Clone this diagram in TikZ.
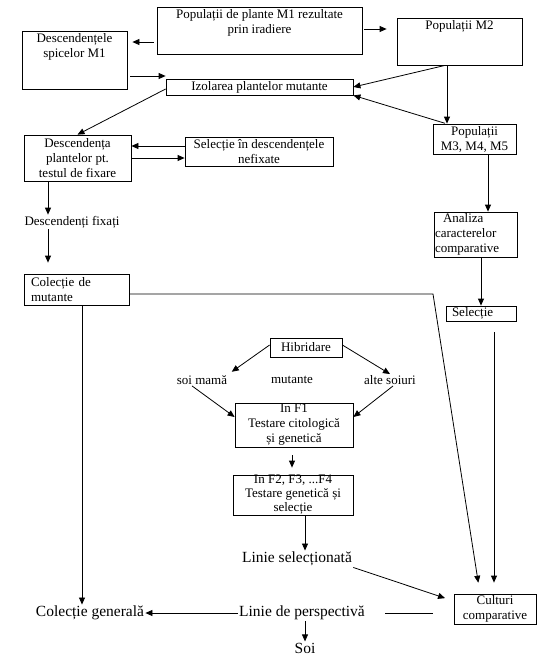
\documentclass[tikz,border=0pt]{standalone}
\usepackage{fontspec}
\setmainfont{Liberation Serif}
\usetikzlibrary{arrows.meta}
\tikzset{
  box/.style={draw, inner sep=1pt, align=center, font=\fontsize{13}{15}\selectfont},
  boxcap/.style={anchor=north, align=center, inner sep=2pt, font=\fontsize{13}{15}\selectfont},
  txt/.style={inner sep=1pt, font=\fontsize{13}{15}\selectfont},
  big/.style={inner sep=1pt, font=\fontsize{15.5}{17}\selectfont},
}
\begin{document}
\begin{tikzpicture}[x=1pt, y=-1pt, line width=0.8pt,
    >={Triangle[length=7pt,width=6pt]}]
    \useasboundingbox (0,0) rectangle (540,667);

    % boxes
    \node[box, minimum width=205, minimum height=47,
        label={[boxcap]north:Populații de plante M1 rezultate\\prin iradiere}] (irad) at (259.5,30.5) {};
    \node[box, minimum width=125, minimum height=47,
        label={[boxcap]north:Populații M2}] (m2) at (459.5,41.5) {};
    \node[box, minimum width=105, minimum height=58,
        label={[boxcap]north:Descendențele\\spicelor M1}] (desc) at (74.5,60) {};
    \node[box, minimum width=187, minimum height=16] (izol) at (259.5,87) {Izolarea plantelor mutante};
    \node[box, minimum width=83, minimum height=30] (m3) at (474.5,139) {Populații\\M3, M4, M5};
    \node[box, minimum width=107, minimum height=46] (fix) at (77.5,158) {Descendența\\plantelor pt.\\testul de fixare};
    \node[box, minimum width=148, minimum height=29] (nefix) at (259,151.5) {Selecție în descendențele\\nefixate};
    \node[txt] (fixati) at (72,222) {Descendenți fixați};
    \node[box, align=left, text width=81, inner xsep=1, minimum height=45] (anal) at (475.5,234.5)
        {\hspace*{8pt}Analiza\\caracterelor\\comparative};
    \node[box, align=left, text width=91, inner xsep=7, minimum height=31] (colm) at (76.5,289.5)
        {Colecție de\\mutante};
    \node[box, align=left, text width=58, inner xsep=6, inner ysep=0, minimum height=15] (sel) at (481,313.5) {Selecție};

    \node[box, minimum width=72, minimum height=19] (hib) at (306,347.5) {Hibridare};
    \node[txt] (mama) at (202,380) {soi mamă};
    \node[txt] (mut) at (292,380) {mutante};
    \node[txt] (alte) at (390,380) {alte soiuri};
    \node[box, minimum width=118, minimum height=44] (f1) at (294,425) {In F1\\Testare citologică\\și genetică};
    \node[box, font=\fontsize{13}{14}\selectfont, inner ysep=0, minimum width=120, minimum height=40] (f2) at (293,495)
        {In F2, F3, ...F4\\Testare genetică și\\selecție};
    \node[big] (linsel) at (297,559) {Linie selecționată};
    \node[box, minimum width=82, minimum height=30] (cult) at (495,609) {Culturi\\comparative};
    \node[big] (colgen) at (90,613) {Colecție generală};
    \node[big] (persp) at (302,613) {Linie de perspectivă};
    \node[big] (soi) at (305,648) {Soi};

    \coordinate (bend) at (433,294);

    % upper part
    \draw[->, shorten <=3pt, shorten >=5pt] (irad.west |- 0,42) -- (desc.east |- 0,42);
    \draw[->, shorten <=2pt, shorten >=10pt] (irad.east |- 0,29) -- (m2.west |- 0,29);
    \draw[->, shorten <=3pt] (desc.east |- 0,76) -- (izol.west |- 0,76);
    \draw[->] (m2.south -| 445,0) -- (izol.east);
    \draw[->, shorten <=1pt] (m3.north -| 446,0) -- (izol.south east);
    \draw[->] (m2.south -| 447,0) -- (m3.north -| 447,0);
    \draw[->] (izol.west |- 0,89) -- (fix.north);
    \draw[->] (nefix.west |- 0,146) -- (fix.east |- 0,146);
    \draw[->] (fix.east |- 0,158) -- (nefix.west |- 0,158);
    \draw[->] (fix.south -| 48,0) -- (fixati.north -| 48,0);
    \draw[->, shorten >=11pt] (fixati.south -| 48,0) -- (colm.north -| 48,0);
    \draw[->] (m3.south -| 488,0) -- (anal.north -| 488,0);
    \draw[->] (anal.south -| 481,0) -- (sel.north -| 481,0);

    % hybridisation
    \draw[->, shorten >=4pt] (hib.west |- 0,345) -- (mama.north east);
    \draw[->] (hib.east |- 0,345) -- (alte.north);
    \draw[->] (mama.south -| 192,0) -- (f1.west |- 0,417);
    \draw[->] (alte.south -| 393,0) -- (f1.east |- 0,417);
    \draw[->, shorten <=8pt, shorten >=7pt] (f1.south -| 292,0) -- (f2.north -| 292,0);
    \draw[->] (f2.south -| 305,0) -- (linsel.north -| 305,0);

    % lower part
    \draw[->, shorten >=11pt] (colm.east |- bend) -- (bend) -- (cult.north -| 480,0);
    \draw[->, shorten <=11pt, shorten >=11pt] (sel.south -| 494,0) -- (cult.north -| 494,0);
    \draw[->] (colm.south -| 82,0) -- (colgen.north -| 82,0);
    \draw[->, shorten >=9pt] (linsel.south east) -- (cult.west |- 0,601);
    \draw[->] (persp.west) -- (colgen.east);
    \draw[shorten <=19pt, shorten >=21pt] (persp.east) -- (cult.west |- persp.east);
    \draw[->] (persp.south -| 305,0) -- (soi.north -| 305,0);

\end{tikzpicture}
\end{document}
